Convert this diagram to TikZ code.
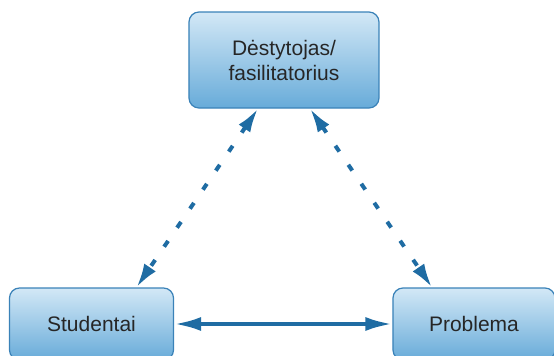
\documentclass[tikz,border=0pt]{standalone}
\usepackage{fontspec}
\setmainfont{Liberation Sans}
\usepackage{tikz}
\usetikzlibrary{arrows.meta, positioning}

\definecolor{boxtop}{HTML}{D3E8F6}
\definecolor{boxbot}{HTML}{67ABD9}
\definecolor{boxline}{HTML}{3A82B8}
\definecolor{arrline}{HTML}{1F6CA3}

\tikzset{
    rolebox/.style={draw=boxline, line width=0.6pt, rounded corners=5pt, top color=boxtop, bottom color=boxbot, align=center, font=\fontsize{10.5}{12.5}\selectfont, text=black!85},
    linkdot/.style={draw=arrline, line width=2pt, dash pattern=on 3.5pt off 8pt, {Latex[length=12pt,width=7pt]}-{Latex[length=12pt,width=7pt]}},
    linkfull/.style={draw=arrline, line width=2pt, {Latex[length=13.5pt,width=7pt]}-{Latex[length=13.5pt,width=7pt]}}
}

\begin{document}
\begin{tikzpicture}[x=0.5pt, y=-0.5pt]

    \useasboundingbox (0, 0) rectangle (554, 355);

    \node[rolebox, minimum width=95pt, minimum height=48pt] (N0) at (284, 60) {D\.{e}stytojas/\\fasilitatorius};
    \node[rolebox, minimum width=82pt, minimum height=36pt] (N1) at (91.5, 324) {Studentai};
    \node[rolebox, minimum width=81pt, minimum height=36pt] (N2) at (474, 324) {Problema};

\draw[linkdot] ([xshift=-13pt]N0.south) -- ([xshift=22.5pt]N1.north);
\draw[linkdot] ([xshift=13pt]N0.south) -- ([xshift=-21pt]N2.north);
\draw[linkfull] (N1.east) -- (N2.west);

\end{tikzpicture}
\end{document}
